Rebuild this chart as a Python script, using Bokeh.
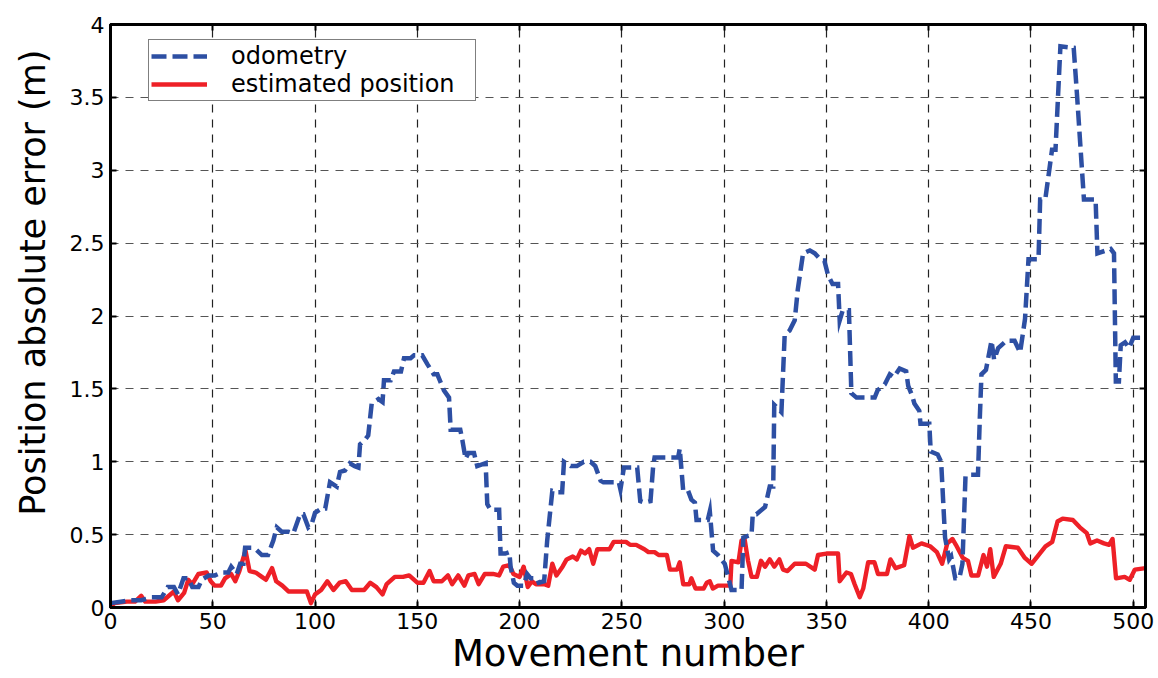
from bokeh.plotting import figure
from bokeh.models import (LinearAxis, Range1d, FixedTicker, NumeralTickFormatter,
                          Legend, LegendItem, Grid)
from bokeh.embed import file_html
from bokeh.resources import INLINE

# ---------------- data ----------------
odo_x = [0, 5, 10, 15, 20, 25, 28, 31, 33, 35.7, 38, 40, 43, 44.6, 48, 51, 54.4, 57.6,
         59, 61.7, 63.4, 65, 65.8, 69, 71, 74, 77, 79.6, 81.3, 83.7, 87, 89.4, 92.7, 94.3,
         96.7, 98.3, 100, 103.3, 105, 107.3, 110.6, 112.2, 114.6, 117, 119.4, 121.2, 122,
         124.4, 126, 127.7, 131, 133, 133.7, 137, 138.6, 142, 143.5, 146.7, 148.4, 152.4,
         154.9, 158, 159.8, 163, 165.5, 166.3, 171, 172, 173.6, 175, 177.7, 179.3, 183.4,
         184.2, 185.8, 190, 190.7, 193, 195, 195.6, 197.2, 198.9, 202, 203.7, 205.4, 208.6,
         209.4, 212, 213.5, 216, 218.4, 220.8, 221.7, 225, 228, 231.4, 234.7, 237, 239.6,
         241, 248.5, 249.3, 251, 254, 257.5, 259, 261, 264, 265.3, 266, 277.5, 278.3, 280,
         282.4, 284, 285.7, 286.5, 292, 293, 294.6, 297, 300.3, 303.6, 308.5, 309.4, 313.4,
         314, 315.8, 320, 322.3, 324, 324.5, 328, 329.6, 332, 334.5, 336, 338.6, 341.9,
         344.3, 347.6, 349, 350.8, 353, 355.7, 356.5, 358, 361, 362.2, 364.7, 373.6, 375,
         378.5, 381, 383, 385.8, 389, 390, 392, 393, 395.4, 396, 400.3, 401, 404.4, 406.1,
         408, 410, 411, 413, 415, 416.5, 418, 420, 424.1, 425, 425.8, 428, 430.7, 432, 434,
         438, 442, 444.7, 447.1, 448.8, 453.7, 454.5, 457, 460.3, 462, 464.4, 470.9, 472.6,
         475.9, 481.6, 482.5, 489, 490.6, 491.5, 493, 493.9, 496, 498, 500, 506]
odo_y = [0.03, 0.04, 0.05, 0.05, 0.07, 0.07, 0.14, 0.14, 0.09, 0.20, 0.20, 0.14, 0.14, 0.19,
         0.22, 0.22, 0.24, 0.24, 0.28, 0.23, 0.30, 0.30, 0.41, 0.41, 0.40, 0.36, 0.36, 0.46,
         0.55, 0.52, 0.52, 0.51, 0.64, 0.64, 0.55, 0.57, 0.65, 0.68, 0.68, 0.86, 0.83, 0.93,
         0.94, 0.99, 0.97, 0.96, 1.12, 1.15, 1.18, 1.40, 1.43, 1.41, 1.56, 1.56, 1.62, 1.62,
         1.71, 1.71, 1.73, 1.73, 1.67, 1.60, 1.60, 1.49, 1.44, 1.22, 1.22, 1.15, 1.02, 1.06,
         1.06, 0.97, 0.99, 0.71, 0.67, 0.67, 0.37, 0.37, 0.38, 0.28, 0.17, 0.15, 0.15, 0.23,
         0.20, 0.20, 0.17, 0.18, 0.46, 0.80, 0.79, 0.79, 1.00, 0.97, 0.97, 1.00, 1.00, 0.97,
         0.87, 0.86, 0.86, 0.81, 0.96, 0.96, 0.96, 0.73, 0.72, 0.73, 0.97, 1.03, 1.03, 1.09,
         0.80, 0.80, 0.74, 0.72, 0.60, 0.60, 0.66, 0.39, 0.36, 0.30, 0.12, 0.12, 0.48, 0.50,
         0.64, 0.64, 0.69, 0.83, 0.83, 1.39, 1.34, 1.87, 1.90, 1.97, 2.18, 2.43, 2.45, 2.43,
         2.38, 2.38, 2.28, 2.22, 2.22, 1.97, 2.04, 2.04, 1.47, 1.44, 1.44, 1.49, 1.53, 1.60,
         1.58, 1.64, 1.62, 1.52, 1.45, 1.40, 1.35, 1.26, 1.26, 1.07, 1.05, 1.00, 0.48, 0.33,
         0.35, 0.20, 0.20, 0.30, 0.90, 0.91, 0.91, 1.30, 1.60, 1.63, 1.83, 1.70, 1.78, 1.83,
         1.83, 1.75, 1.98, 2.39, 2.39, 2.80, 2.80, 3.14, 3.14, 3.85, 3.84, 3.50, 2.80, 2.80,
         2.43, 2.46, 2.43, 1.55, 1.55, 1.80, 1.82, 1.78, 1.85, 1.85]

est_x = [0, 2, 8, 12, 15, 17, 22, 26, 31, 33, 36, 38, 40, 43, 47, 49, 51, 54, 56, 59, 61,
         63, 66, 68, 71, 74, 76, 79, 81, 84, 87, 92, 96, 98, 100, 103, 106, 109, 112, 115,
         118, 121, 124, 127, 130, 133, 135, 139, 143, 146, 150, 153, 156, 158, 162, 165,
         167, 170, 173, 175, 178, 180, 183, 187, 190, 192, 195, 197, 200, 202, 204, 206,
         208, 212, 214, 216, 218, 221, 223, 226, 228, 230, 232, 234, 236, 238, 241, 244,
         246, 252, 254, 257, 261, 263, 266, 268, 272, 273.5, 277, 278.3, 280, 283, 284,
         286, 290, 291.5, 293, 294.5, 297, 301, 303, 303.6, 307, 308.5, 310, 311.7, 313.4,
         316, 318, 320, 322.3, 324.5, 327, 328.8, 331, 334.5, 340, 344.3, 345.9, 350,
         355.7, 356.5, 359.8, 362, 363.8, 366.3, 368, 370.4, 373.5, 375.2, 379.6, 381.3,
         383.8, 388, 390.6, 392.3, 396.5, 400.7, 404, 406.6, 409.1, 411.6, 413.3, 416.7,
         419.2, 420.9, 424.2, 426.8, 428.5, 430.1, 431.8, 435.2, 437.7, 443.6, 447, 450.3,
         453.7, 457.1, 460.4, 463, 465.5, 470.5, 473.9, 477.3, 479, 482.3, 485.7, 488.2,
         489.9, 491.6, 495.8, 498.3, 500.8, 506]
est_y = [0.01, 0.03, 0.04, 0.04, 0.08, 0.04, 0.04, 0.05, 0.11, 0.05, 0.10, 0.19, 0.16,
         0.23, 0.24, 0.18, 0.15, 0.15, 0.20, 0.23, 0.18, 0.25, 0.39, 0.25, 0.24, 0.21, 0.19,
         0.27, 0.18, 0.15, 0.11, 0.11, 0.11, 0.03, 0.09, 0.12, 0.18, 0.12, 0.17, 0.18, 0.12,
         0.12, 0.12, 0.17, 0.14, 0.09, 0.16, 0.21, 0.21, 0.22, 0.17, 0.17, 0.25, 0.18, 0.18,
         0.22, 0.16, 0.22, 0.15, 0.22, 0.23, 0.16, 0.23, 0.23, 0.22, 0.28, 0.29, 0.23, 0.21,
         0.28, 0.14, 0.18, 0.16, 0.16, 0.15, 0.30, 0.22, 0.28, 0.33, 0.35, 0.33, 0.39, 0.37,
         0.40, 0.30, 0.40, 0.40, 0.40, 0.45, 0.45, 0.43, 0.43, 0.40, 0.38, 0.38, 0.36, 0.36,
         0.26, 0.26, 0.31, 0.16, 0.16, 0.20, 0.13, 0.13, 0.17, 0.18, 0.13, 0.15, 0.15, 0.15,
         0.32, 0.31, 0.46, 0.47, 0.32, 0.21, 0.21, 0.32, 0.28, 0.33, 0.28, 0.33, 0.26, 0.25,
         0.30, 0.30, 0.26, 0.36, 0.37, 0.37, 0.18, 0.24, 0.23, 0.16, 0.07, 0.13, 0.31, 0.31,
         0.23, 0.23, 0.33, 0.27, 0.29, 0.49, 0.41, 0.44, 0.42, 0.38, 0.30, 0.44, 0.47, 0.43,
         0.34, 0.32, 0.22, 0.22, 0.36, 0.28, 0.40, 0.21, 0.30, 0.42, 0.41, 0.34, 0.30, 0.36,
         0.42, 0.45, 0.59, 0.61, 0.60, 0.55, 0.51, 0.44, 0.46, 0.44, 0.43, 0.47, 0.20, 0.21,
         0.19, 0.26, 0.27]

x_ticks = [0, 50, 100, 150, 200, 250, 300, 350, 400, 450, 500]
y_ticks = [0, 0.5, 1, 1.5, 2, 2.5, 3, 3.5, 4]

FONT = "DejaVu Sans"
BLUE = "#2D4FA3"
RED = "#EE2027"

p = figure(width=1158, height=678, output_backend="svg", toolbar_location=None,
           x_range=Range1d(0, 506), y_range=Range1d(0, 4),
           x_axis_type=None, y_axis_type=None,
           min_border_left=110, min_border_right=13, min_border_top=24,
           min_border_bottom=71, background_fill_color="white",
           border_fill_color="white", outline_line_color="black",
           outline_line_width=3)

def make_axis(ticks, label=None, label_size=None, show_labels=True):
    ax = LinearAxis(ticker=FixedTicker(ticks=ticks),
                    formatter=NumeralTickFormatter(format="0.[0]"))
    ax.axis_line_width = 3
    ax.axis_line_color = "black"
    ax.major_tick_in = 6
    ax.major_tick_out = 0
    ax.major_tick_line_width = 2
    ax.minor_tick_line_color = None
    if show_labels:
        ax.major_label_text_font = FONT
        ax.major_label_text_font_size = "22px"
        ax.major_label_text_color = "black"
    else:
        ax.major_label_text_font_size = "1px"
        ax.major_label_text_color = None
        ax.major_label_standoff = 0
    if label:
        ax.axis_label = label
        ax.axis_label_text_font = FONT
        ax.axis_label_text_font_size = label_size
        ax.axis_label_text_font_style = "normal"
        ax.axis_label_text_color = "black"
    return ax

xb = make_axis(x_ticks, "Movement number", "37px")
xb.major_label_standoff = 5
xb.axis_label_standoff = 0
# leading no-break spaces move the (centred) label up, as in the reference
yl = make_axis(y_ticks, "\u00a0" * 6 + "Position absolute error (m)", "35px")
yl.major_label_standoff = 6
yl.axis_label_standoff = 14
p.add_layout(xb, "below")
p.add_layout(yl, "left")
p.add_layout(make_axis(x_ticks, show_labels=False), "above")
p.add_layout(make_axis(y_ticks, show_labels=False), "right")

gx = Grid(dimension=0, ticker=xb.ticker, grid_line_color="#222222",
          grid_line_dash="8 7", grid_line_width=1.2)
gy = Grid(dimension=1, ticker=yl.ticker, grid_line_color="#555555",
          grid_line_dash="8 7", grid_line_width=1.2)
p.add_layout(gx)
p.add_layout(gy)

r_est = p.line(est_x, est_y, line_color=RED, line_width=4.4, line_join="round")
r_odo = p.line(odo_x, odo_y, line_color=BLUE, line_width=4.5, line_dash="15 6",
               line_join="miter")

legend = Legend(items=[LegendItem(label="odometry", renderers=[r_odo]),
                       LegendItem(label="estimated position", renderers=[r_est])],
                location=(38, 506), orientation="vertical")
legend.border_line_color = "black"
legend.border_line_width = 1.5
legend.background_fill_color = "white"
legend.background_fill_alpha = 1
legend.label_text_font = FONT
legend.label_text_font_size = "24px"
legend.label_text_color = "black"
legend.glyph_width = 56
legend.glyph_height = 20
legend.label_height = 20
legend.label_width = 242
legend.label_standoff = 24
legend.padding = 2
legend.spacing = 0
legend.margin = 0
p.add_layout(legend, "center")

open("out.html", "w").write(file_html(p, INLINE))
